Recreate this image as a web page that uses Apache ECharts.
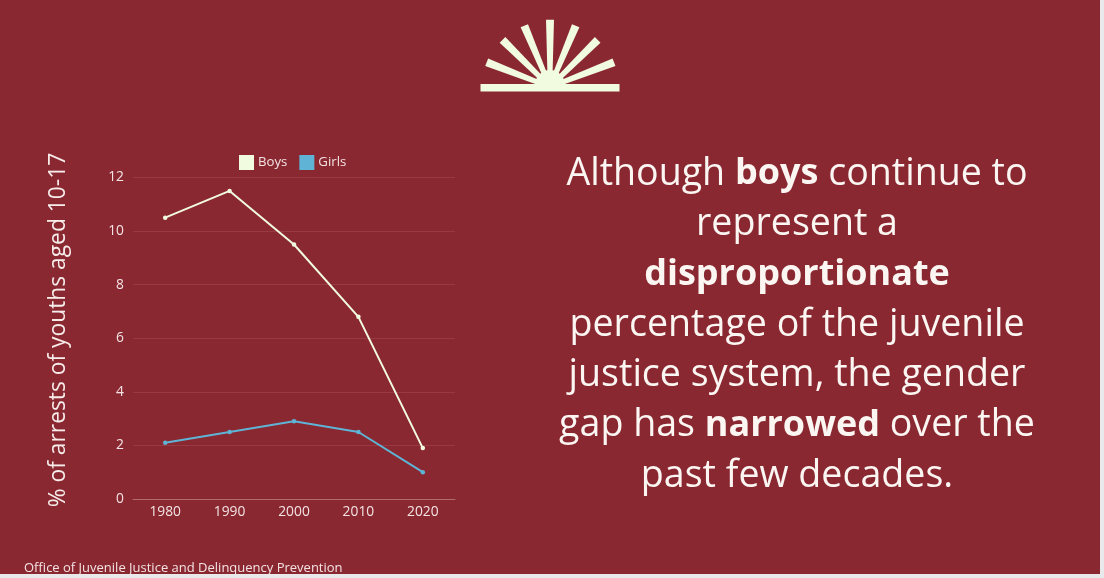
<!DOCTYPE html>
<html><head><meta charset="utf-8">
<script src="https://cdn.jsdelivr.net/npm/echarts@6/dist/echarts.min.js"></script>
<style>html,body{margin:0;padding:0;background:#e9e9ec;overflow:hidden}#c{width:1100px;height:574px}</style>
</head><body><div id="c"></div>
<script>
const years=['1980','1990','2000','2010','2020'];
const boys=[10.5,11.5,9.5,6.8,1.9];
const girls=[2.1,2.5,2.9,2.5,1.0];
const yTitle='% of arrests of youths aged 10-17';
const source='Office of Juvenile Justice and Delinquency Prevention';
const message=[
 '{n|Although }{b|boys}{n| continue to}',
 '{n|represent a}',
 '{b|disproportionate}',
 '{n|percentage of the juvenile}',
 '{n|justice system, the gender}',
 '{n|gap has }{b|narrowed}{n| over the}',
 '{n|past few decades.}'
];
const BG='#8a2832',CREAM='#f1fbe0',BLUE='#5fb3d4',TXT='#f3e3e3',FONT='"Open Sans"';
const rayEnds=[[486.7,62.3],[502.5,39.8],[524.3,25.7],[550,19.7],[575.7,25.7],[597.7,39.8],[614,62.3]];
const hub=[550,87];
const logo=rayEnds.map(([x,y])=>{
  const dx=x-hub[0],dy=y-hub[1],l=Math.hypot(dx,dy),nx=-dy/l,ny=dx/l,w=4,w2=2.2;
  return {type:'polygon',silent:true,shape:{points:[[x+nx*w,y+ny*w],[x-nx*w,y-ny*w],[hub[0]-nx*w2,hub[1]-ny*w2],[hub[0]+nx*w2,hub[1]+ny*w2]]},style:{fill:CREAM}};
});
logo.push({type:'sector',silent:true,shape:{cx:550,cy:85,r0:0,r:15,startAngle:Math.PI,endAngle:2*Math.PI},style:{fill:CREAM}});
logo.push({type:'rect',silent:true,shape:{x:480.5,y:84,width:139,height:7.5},style:{fill:CREAM}});
const lines=message.map((t,i)=>({type:'text',silent:true,x:797,y:174+i*50.3,style:{
  text:t,align:'center',verticalAlign:'middle',
  rich:{n:{fontFamily:FONT,fontSize:37.6,fill:'#fbf6f2'},b:{fontFamily:FONT,fontSize:36,fontWeight:700,fill:'#fbf6f2'}}}}));
const chart=echarts.init(document.getElementById('c'),null,{renderer:'canvas'});
chart.setOption({
  animation:false,backgroundColor:BG,
  grid:{left:133,right:645,top:177.5,bottom:75},
  legend:{left:234,top:150,itemWidth:15,itemHeight:15,itemGap:12,icon:'rect',
    textStyle:{color:TXT,fontFamily:FONT,fontSize:13.2,padding:[0,0,0,-1]},
    data:['Boys','Girls']},
  xAxis:{type:'category',data:years,boundaryGap:true,
    axisLine:{lineStyle:{color:'#b06a70',width:1}},axisTick:{show:false},
    axisLabel:{color:TXT,fontFamily:FONT,fontSize:13.8,margin:6}},
  yAxis:{type:'value',min:0,max:12,interval:2,
    axisLine:{show:false},axisTick:{show:false},
    splitLine:{lineStyle:{color:'#983a44',width:1}},
    axisLabel:{color:TXT,fontFamily:FONT,fontSize:13.8,margin:9}},
  series:[
    {name:'Boys',type:'line',data:boys,symbol:'circle',symbolSize:4.5,showSymbol:true,
     lineStyle:{color:CREAM,width:2},itemStyle:{color:CREAM}},
    {name:'Girls',type:'line',data:girls,symbol:'circle',symbolSize:4.5,showSymbol:true,
     lineStyle:{color:BLUE,width:2},itemStyle:{color:BLUE}}
  ],
  graphic:[...logo,...lines,
    {type:'text',silent:true,x:58.5,y:330,rotation:Math.PI/2,style:{text:yTitle,align:'center',verticalAlign:'middle',fontFamily:FONT,fontSize:22.8,fill:'#f7ecea'}},
    {type:'text',silent:true,x:24,y:568,style:{text:source,align:'left',verticalAlign:'middle',fontFamily:FONT,fontSize:13,fill:TXT}}
  ]
});
</script></body></html>
